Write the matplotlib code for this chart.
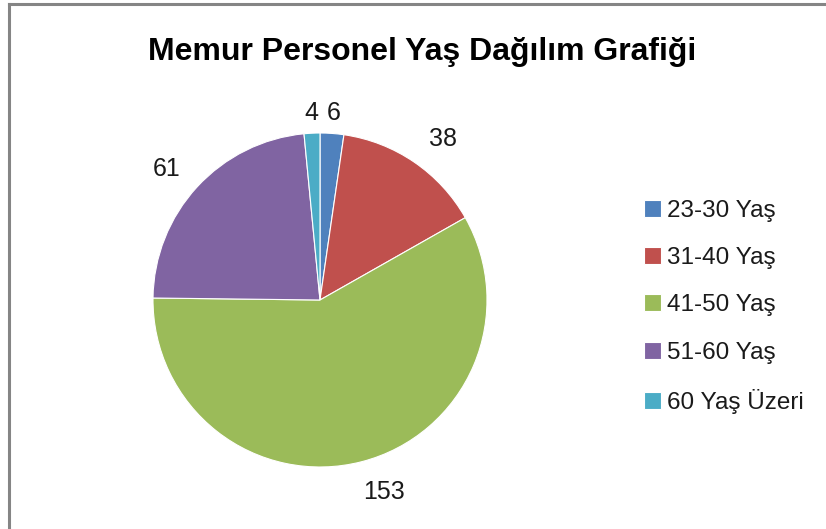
import matplotlib
matplotlib.use("Agg")
import matplotlib.pyplot as plt
import numpy as np
from matplotlib.lines import Line2D

plt.rcParams['font.family'] = ['Liberation Sans', 'DejaVu Sans']

categories = ["23-30 Yaş", "31-40 Yaş", "41-50 Yaş", "51-60 Yaş", "60 Yaş Üzeri"]
values = [6, 38, 153, 61, 4]
colors = ["#4F81BD", "#C0504D", "#9BBB59", "#8064A2", "#4BACC6"]
title = "Memur Personel Yaş Dağılım Grafiği"
label_dist = [1.12, 1.21, 1.21, 1.21, 1.12]
label_shift = [0, -3, 4, 2, 0]  # small angular nudges (degrees) like Excel's best-fit

W, H = 826, 529
fig = plt.figure(figsize=(W / 100, H / 100), dpi=100)
fig.patch.set_facecolor("white")

# frame lines (top and left only)
fig.add_artist(Line2D([9 / W, 1], [1 - 4 / H, 1 - 4 / H], color="#858585", lw=2.2, transform=fig.transFigure))
fig.add_artist(Line2D([9 / W, 9 / W], [0, 1 - 4 / H], color="#858585", lw=2.2, transform=fig.transFigure))

cx, cy, r = 320, 300, 167
ax = fig.add_axes([(cx - r) / W, 1 - (cy + r) / H, 2 * r / W, 2 * r / H])
wedges, _ = ax.pie(values, colors=colors, startangle=90, counterclock=False,
                   wedgeprops=dict(linewidth=0.8, edgecolor="white"))
ax.set_xlim(-1, 1)
ax.set_ylim(-1, 1)
ax.set_aspect("equal")
ax.axis("off")

for w, v, d, s in zip(wedges, values, label_dist, label_shift):
    th = np.deg2rad((w.theta1 + w.theta2) / 2 + s)
    ax.text(d * np.cos(th), d * np.sin(th), str(v), ha="center", va="center",
            fontsize=18, color="#1a1a1a", clip_on=False)

fig.text(422 / W, 1 - 52 / H, title, ha="center", va="center", fontsize=23,
         fontweight="bold", color="black")

leg = fig.legend(wedges, categories, loc="upper left",
                 bbox_to_anchor=(634 / W, 1 - 190 / H), frameon=False,
                 fontsize=17.5, handlelength=0.7, handleheight=0.7,
                 handletextpad=0.25, labelspacing=1.04, borderaxespad=0)
for t in leg.get_texts():
    t.set_color("#1a1a1a")

fig.savefig("out.png", dpi=100, facecolor="white")
